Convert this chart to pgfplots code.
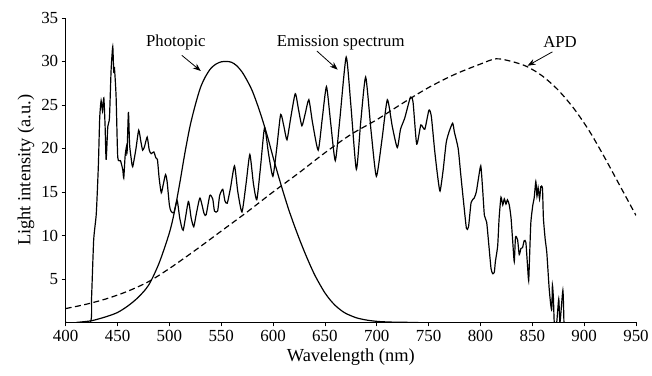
\documentclass[border=0pt]{standalone}
\usepackage{fontspec}
\setmainfont{Liberation Serif}
\usepackage{pgfplots}
\pgfplotsset{compat=1.18}
\usetikzlibrary{arrows.meta}
\begin{document}
\begin{tikzpicture}
\begin{axis}[
  scale only axis, width=573pt, height=306pt,
  xmin=400, xmax=950, ymin=0, ymax=35,
  axis x line*=bottom, axis y line*=left,
  axis line style={-, line width=0.8pt},
  xtick={400,450,...,950}, ytick={5,10,...,35},
  tick align=outside, major tick length=4pt,
  tick style={black, line width=0.8pt},
  /pgf/number format/assume math mode=true,
  /pgf/number format/1000 sep={},
  every tick label/.append style={font=\fontsize{17}{18}\selectfont},
  xlabel={Wavelength (nm)}, ylabel={Light intensity (a.u.)},
  label style={font=\fontsize{18.5}{20}\selectfont},
]
% extension of the x axis line to the left
\draw[line width=0.8pt] (axis cs:400,0) -- ++(-21pt,0);

% Photopic
\addplot[black, line width=1.2pt, smooth, tension=0.5] coordinates {
(410,0) (420,0.12) (425,0.2) (430,0.35) (440,0.7) (450,1.15) (460,1.9) (470,2.9)
(480,4.3) (490,6.8) (500,10.3) (505,12.8) (510,16.0) (515,19.5) (520,22.6)
(525,25.0) (530,27.0) (535,28.3) (540,29.2) (545,29.7) (550,29.95) (555,30.0)
(560,29.9) (565,29.5) (570,28.8) (575,27.8) (580,26.6) (585,25.0) (590,23.2)
(595,21.2) (600,19.0) (605,16.9) (610,14.9) (615,13.0) (620,11.3) (625,9.7)
(630,8.2) (635,6.8) (640,5.5) (645,4.4) (650,3.4) (655,2.6) (660,1.95)
(665,1.45) (670,1.05) (680,0.55) (690,0.28) (700,0.13) (710,0.06) (720,0.03) (740,0)
};

% APD
\addplot[black, line width=1.2pt, dash pattern=on 6pt off 3.5pt, smooth] coordinates {
(400,1.6) (420,2.1) (440,2.75) (460,3.6) (480,4.7) (500,6.2) (525,8.3) (550,10.5)
(575,12.7) (600,15.0) (625,17.2) (650,19.5) (675,21.6) (700,23.3) (725,25.2)
(750,27.0) (775,28.5) (800,29.7) (815,30.3) (830,30.0) (845,29.4) (860,28.3)
(875,26.7) (890,24.6) (905,22.0) (920,18.9) (935,15.6) (950,12.3)
};

% Emission spectrum
\addplot[black, line width=1.2pt, smooth, tension=0.35] coordinates {
(400,0) (423.5,0) (425,3) (427,9.5) (429.5,12.5) (431.5,18) (432.8,23.5) (434.2,25.5)
(435.5,24.3) (436.8,25.8) (438,22.6) (439,18.7) (440.6,22.5) (442.2,23.5) (443.8,29.0)
(445.4,31.7) (446.3,28.8) (447,29.3) (448.6,26.0) (450.2,19.0) (452.8,18.6) (455,17.6)
(456,16.6) (457.3,19.1) (458.6,20.2) (459.2,19.5) (460.5,24.2) (461.6,20.5) (463,19)
(464.6,17.9) (467.8,20.0) (470.4,22.1) (472.5,20.8) (474.2,19.8) (476,20.2) (478.6,21.3)
(480.6,19.8) (482.5,19.4) (485,19.6) (487,18.9) (488.5,18.7) (490.2,16.5) (492.2,14.9)
(494,15.8) (496.3,17.0) (497.8,16.2) (500,13.5) (501.5,12.8) (504.3,12.6) (507.5,14.0)
(510,12.0) (513.3,10.6) (518.3,13.9) (521,12.0) (523.5,11.0) (526,12.5) (529.5,14.3)
(533.5,12.5) (535.5,12.4) (539,14.6) (541.8,14.2) (543.5,12.8) (546.5,12.8) (548.5,14.6)
(551.5,15.3) (553.5,14.0) (555.8,13.7) (559,15.5) (562.8,18.0) (566,15) (570,12.7)
(574,16) (577.6,19.3) (581,16) (584.3,14.1) (588,18) (591.8,22.4) (595.5,19.5)
(599.8,16.8) (603.5,20) (607.3,23.9) (610.5,22.5) (613.4,21.0) (617,23.5) (621.4,26.3)
(624.5,24.5) (627.8,22.6) (631,24) (634.5,25.6) (638,23) (643.5,19.8) (647.5,23.5)
(651.5,27.1) (655.5,23) (660,18.6) (664.5,23.5) (670.5,30.5) (675,25) (680.3,17.6)
(684.5,23) (689.3,28.2) (694.5,22) (699.6,16.8) (705,21) (710.2,25.6) (715,22.5)
(719.8,20.1) (722.9,22.2) (727,23.5) (732.5,25.9) (735,25.3) (738.5,20.5) (742.5,22.7)
(746.3,22.2) (750.3,24.4) (752.6,23.7) (755.8,19.8) (758.5,17) (761,15.1) (764,17.5)
(767,20.7) (770,22) (773.2,22.9) (775,21.8) (778.5,20.0) (781,17) (784,13.5)
(786.5,10.8) (788.5,11) (791,13.8) (794,14.3) (796,15) (798,16.5) (800.3,18.0)
(802,15.5) (803.8,12.3) (806,11.5) (808,9) (810.2,6.2) (811.8,5.6) (813.4,5.8)
(814.4,7.0) (816.6,8.8) (818,12) (819.8,14.4) (821.5,13.5) (823,14.2) (824.6,13.6)
(826,14.1) (827.8,13.5) (829.5,12) (831,9.5) (832.6,7.0) (833.8,9.8) (835.8,9.5)
(837.4,7.8) (839,8.5) (840.6,8.6) (842.2,9.4) (843.8,9.2) (845.4,6.5) (846.5,4.8)
(847.5,8) (848.6,11.5) (850.5,13.5) (851.8,14.3) (853.4,16.2) (854.5,14.5) (855.6,15.5)
(857,14.2) (858.2,15.6) (859.8,15.4) (860.7,12.0) (862.4,9.6) (864,8) (866.2,4.0)
(867.8,2.0) (868.8,1.5) (869.4,4.3) (870.4,2.7) (871.2,0) (873.5,0) (875.5,2.7)
(876.7,0) (879.5,3.7) (880.5,0)
};

% annotations
\node[font=\fontsize{16.8}{18}\selectfont] at (axis cs:506.3,32.2) {Photopic};
\draw[line width=0.8pt, -{Stealth[length=8pt,width=6pt]}] (axis cs:512,30.7) -- (axis cs:530.3,28.9);
\node[font=\fontsize{16.8}{18}\selectfont] at (axis cs:665.2,32.2) {Emission spectrum};
\draw[line width=0.8pt, -{Stealth[length=8pt,width=6pt]}] (axis cs:642.2,31.2) -- (axis cs:662.3,29.05);
\node[font=\fontsize{16.8}{18}\selectfont] at (axis cs:876.7,32.2) {APD};
\draw[line width=0.8pt, -{Stealth[length=8pt,width=6pt]}] (axis cs:869.4,31.1) -- (axis cs:845.4,29.5);
\end{axis}
\path[use as bounding box] (-66pt,-53pt) rectangle (586pt,324pt);
\end{tikzpicture}
\end{document}
